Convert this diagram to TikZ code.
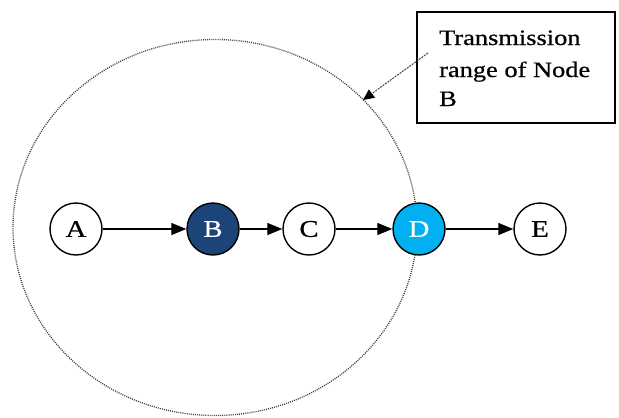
\documentclass[tikz,border=0pt]{standalone}
\usepackage{fontspec}
\setmainfont{Liberation Serif}
\newfontfamily\widefont[FakeStretch=1.2,FakeBold=0.6]{Liberation Serif}
\usetikzlibrary{arrows.meta}
\definecolor{darkblueB}{HTML}{1C4478}
\definecolor{cyanD}{HTML}{00B0F0}
\definecolor{rangegray}{HTML}{404040}
\tikzset{
  netnode/.style={circle, draw=black, line width=1.4pt, minimum size=52pt, inner sep=0pt,
    font=\widefont\fontsize{24}{24}\selectfont},
  hop/.style={line width=1.3pt, -{Triangle[length=15pt,width=12pt]}},
  boxline/.style={anchor=base west, inner sep=0pt, font=\widefont\fontsize{22}{22}\selectfont},
  pointer/.style={rangegray, line width=1pt, dash pattern=on 2pt off 1pt, -{Triangle[length=11pt,width=10pt,fill=black,color=black]}}
}
\begin{document}
\begin{tikzpicture}[x=1pt,y=-1pt]
\useasboundingbox (0,0) rectangle (619,418);
% transmission range
\draw[rangegray, line width=1.3pt, dash pattern=on 1pt off 1.1pt] (215,227.5) ellipse [x radius=202, y radius=188];
% nodes
\node[netnode, fill=white] (A) at (76,229) {A};
\node[netnode, fill=darkblueB, text=white] (B) at (213,229) {B};
\node[netnode, fill=white] (C) at (309,229) {C};
\node[netnode, fill=cyanD, text=white] (D) at (419,229) {D};
\node[netnode, fill=white] (E) at (540,229) {E};
\draw[hop] (A) -- (B);
\draw[hop] (B) -- (C);
\draw[hop] (C) -- (D);
\draw[hop] (D) -- (E);
% label box
\node[draw=black, line width=1.4pt, fill=white, minimum width=198pt, minimum height=111pt, inner sep=0pt] (box) at (516,67.5) {};
\node[boxline] (t1) at (439,45) {Transmission};
\node[boxline] (t2) at (439,77) {range of Node};
\node[boxline] (t3) at (439,106) {B};
\coordinate (ps) at (428,53);
\coordinate (pt) at (363,100);
\draw[pointer] (ps) -- (pt);
\end{tikzpicture}
\end{document}
